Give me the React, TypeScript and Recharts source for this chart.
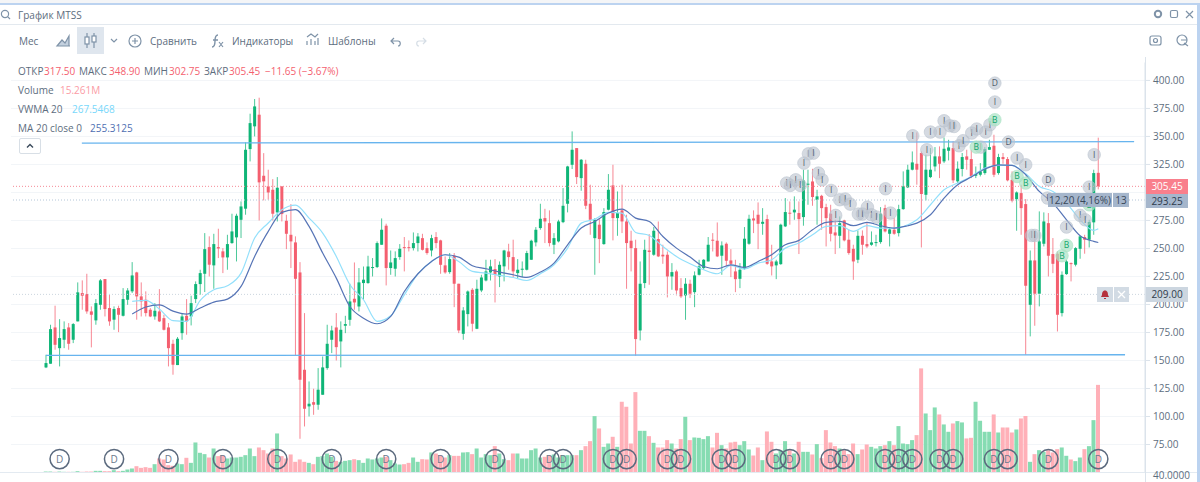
import React from "react";
import {
  ComposedChart, Bar, Line, Scatter, Cell, XAxis, YAxis, CartesianGrid, ReferenceLine,
} from "recharts";

const opens = [
  143.8, 147.1, 179.5, 161, 168.5, 179.5, 168.5, 184.9, 210.2, 209.3,
  193.8, 185.8, 199.7, 222.7, 196.8, 186.4, 196.8, 189.9, 204.2, 211.7,
  228.6, 207.2, 204.2, 195.3, 189.3, 193.8, 187.8, 179.5, 164.9, 145.9,
  174.4, 189.9, 189.3, 204.8, 218.2, 227.4, 251.2, 234.9, 251.2, 247.4,
  242, 254.8, 259.9, 275.6, 285.5, 338.7, 359, 369.4, 314.9, 305.4,
  302.4, 282.2, 305.4, 274.7, 262.2, 255.4, 228.6, 141.7, 109, 112.8,
  110.5, 119.4, 143.2, 168.5, 179.5, 167, 181, 186.3, 205.1, 198.2,
  219.1, 219.1, 232.5, 233.4, 253.3, 270.3, 232.5, 231.9, 242.3, 251.2,
  251.2, 250.3, 254.8, 259.2, 250.3, 248.2, 260.2, 257.2, 234.9, 228.9,
  243.5, 218.5, 173.8, 191.4, 213.1, 178.3, 212.5, 221.4, 228.6, 231.6,
  225, 234, 247.3, 242.3, 228, 231, 231, 239.9, 255.4, 268.2,
  277.1, 272.6, 253.3, 256.3, 273.5, 289.9, 324.7, 339.6, 312.8, 325.6,
  289.9, 259.2, 271.2, 253.9, 284.6, 306.3, 277.1, 284, 274.1, 256.9,
  250.3, 176.8, 219.1, 248.2, 244.4, 258.4, 244.4, 244.4, 225, 229.5,
  214.6, 208.1, 218.5, 211, 226.5, 232.5, 238.4, 257.8, 256.9, 243.5,
  254.2, 239.3, 229.5, 222.9, 231.9, 254.2, 276.8, 280.1, 272, 276.2,
  238.4, 234.9, 236, 269.7, 281.9, 282.2, 281.6, 278, 306.9, 309.8,
  293.5, 297, 286.9, 281, 264.3, 261.3, 275, 257.8, 249.7, 239.9,
  261.3, 253.9, 253.3, 254.8, 255.7, 286, 263.1, 266.7, 263.7, 285.1,
  304.5, 320.3, 325.6, 335.2, 297.9, 313.7, 323.2, 332.2, 327.7, 337.2,
  339.6, 309.9, 320.9, 332.2, 329.8, 314.9, 315.8, 317.3, 338.1, 341.7,
  317.3, 331.6, 329.8, 311.3, 294, 299.4, 289.6, 199.7, 239.3, 209.6,
  254.2, 272.6, 245, 245.3, 192.3, 227.1, 236.9, 235.5, 249.7, 260.2,
  257.8, 273.3, 317.5,
];

const closes = [
  147.7, 178, 164, 170, 178, 164.9, 182.5, 210.8, 207.8, 193.8,
  190.8, 201.2, 221.5, 195.9, 184.9, 195.9, 190.8, 204.8, 212.5, 225.9,
  207.2, 202.7, 192.3, 189.3, 194.4, 184.9, 177.4, 161, 146.2, 169.4,
  189.3, 184.9, 201.2, 218.2, 228, 249.4, 235.5, 253.9, 250, 242,
  253.9, 265.2, 279.2, 287.5, 338.1, 361.9, 376.8, 309, 309.9, 300,
  281, 304.2, 280.7, 263.1, 256.3, 222.9, 132.8, 106.9, 111.4, 110.5,
  123.9, 143.8, 164.9, 176.8, 161.9, 177.4, 182.5, 202.7, 201.8, 219.7,
  222.1, 233.9, 233.4, 254.8, 266.7, 232.5, 237.5, 241.4, 249.7, 250.3,
  250.3, 254.8, 260.7, 248.8, 245.9, 259.2, 254.8, 235.4, 228.6, 240.5,
  218.5, 176.8, 194.7, 211.6, 182.8, 214, 224.1, 229.5, 234, 226.5,
  235.4, 248.2, 242.3, 229.5, 231, 231.9, 245.9, 256.9, 266.7, 276.5,
  274.1, 254.8, 259.2, 274.1, 288.1, 323.2, 338.1, 313.7, 329.2, 288.1,
  275.6, 275.6, 258.4, 282.5, 302.4, 277.1, 281.6, 274.1, 254.8, 250.3,
  169.1, 218.5, 248.8, 246.8, 265.8, 242.9, 242.9, 225, 228.9, 212.5,
  207.2, 218.5, 209.6, 225.9, 234, 239.9, 253.3, 256.9, 242.9, 252.7,
  239, 236.3, 222.6, 231, 258.7, 276.5, 275, 272, 273.8, 236.3,
  234, 238.4, 271.2, 282.5, 281.3, 284.6, 276.2, 310.7, 307.8, 295.9,
  296.5, 286, 277.1, 263.1, 261.6, 272.6, 257.2, 245.9, 238.4, 261.3,
  253.3, 251.8, 255.4, 255.7, 281, 265.2, 267, 263.1, 285.1, 305.4,
  320.3, 326.8, 320.3, 298.6, 320.3, 320.3, 332.2, 325.6, 339, 340.2,
  310.8, 321.2, 331.6, 329.2, 314.3, 316.4, 318.8, 338.7, 340.5, 315.8,
  331.6, 329.8, 310.8, 292.6, 300, 286, 216.7, 239.3, 209.6, 256.3,
  274.1, 243.5, 236.3, 190.8, 226.5, 238.4, 236.3, 250.3, 260.8, 257.8,
  273.6, 317.3, 305.45,
];

const highs = [
  155.1, 181.9, 198.9, 186.9, 184.9, 183.4, 183.4, 219.7, 221.5, 227.4,
  198.3, 204.8, 222.7, 222.7, 208.7, 198.3, 198.9, 214.6, 214.6, 237.8,
  229.2, 219.7, 211.7, 196.8, 201.2, 213.7, 190.8, 183.4, 168.5, 170.9,
  191.7, 204.8, 207.8, 220.6, 231, 263.7, 260.8, 263.1, 267.6, 250.3,
  262.2, 281, 281, 292, 344.7, 370.3, 383.4, 384.6, 335.1, 320.3,
  311.9, 313.7, 305.4, 280.1, 289.6, 260.8, 237.8, 192.3, 131.3, 124.8,
  143.2, 153.6, 181.9, 181, 192.3, 184.9, 189.9, 218.5, 237.5, 232.5,
  233.9, 243.5, 241.4, 256.3, 276.8, 272.1, 248.2, 247.4, 253.9, 260.2,
  257.2, 264.3, 263.7, 263.1, 255.4, 262.2, 264.6, 257.8, 242.9, 245.9,
  245.9, 218.5, 197.6, 212.5, 214.6, 222.1, 226.5, 239.9, 239.9, 240.5,
  238.4, 248.8, 254.2, 257.8, 240.5, 238.4, 247.9, 257.8, 269.1, 289.9,
  285.4, 284, 263.7, 275.6, 303.9, 323.8, 354.5, 339.6, 329.8, 329.2,
  306.9, 277.1, 276.2, 286, 316.4, 324.7, 300.9, 306.9, 280.1, 265.8,
  257.8, 238.4, 257.8, 262.8, 269.1, 274.1, 253.3, 247.3, 236.9, 231,
  223.5, 223.5, 222.1, 229.5, 239.9, 240.5, 260.2, 263.7, 273.2, 256.3,
  255.4, 249.4, 239.9, 236.9, 269.1, 280.1, 284, 291.1, 286, 280.1,
  253.3, 239.9, 272.1, 295, 292, 296.5, 292, 320.3, 320.3, 321.1,
  302.4, 297.9, 289.9, 289, 275.6, 278.6, 275.6, 266.7, 253.3, 266.1,
  266.1, 272.6, 265.2, 262.2, 286.9, 289, 269.1, 277.1, 289, 318.8,
  324.7, 336.6, 353.6, 336.6, 333.7, 339.6, 340.5, 341.1, 349.1, 347,
  345.6, 327.7, 335.2, 338.1, 338.1, 323.2, 326.2, 340.5, 347, 351.5,
  334.5, 335.2, 331.6, 318.8, 300.9, 306.9, 294.1, 248.2, 262.2, 283.1,
  282.2, 281.6, 259.3, 247.4, 229.5, 239.9, 237.5, 251.2, 261.3, 262.2,
  275.6, 320.3, 348.9,
];

const lows = [
  143.2, 147.1, 159.6, 144.7, 161, 159.6, 165.5, 184.9, 195.3, 191.7,
  161.7, 181.9, 195.3, 189.3, 181, 177.4, 175.3, 189.3, 199.7, 210.2,
  186.4, 189.3, 189.3, 188.7, 186.4, 184.3, 176.8, 144.7, 137.3, 145.9,
  168.5, 173, 181.3, 201.2, 208.7, 211.1, 225, 214, 241.4, 228,
  231, 254.2, 238.4, 259.3, 280.1, 327.7, 350, 275, 292.9, 293.5,
  275, 274.1, 274.1, 249.4, 232.5, 154.5, 80.1, 91.1, 100, 101.5,
  106, 119.4, 141.7, 156.6, 150, 143.8, 174.4, 181, 195.3, 193.8,
  204.2, 218.5, 225, 232.5, 253.3, 217, 226.5, 225, 239.9, 229.5,
  247.3, 248.2, 247.3, 248.2, 244.4, 242.9, 250.3, 227.4, 227.4, 227.4,
  197.6, 174.4, 168.5, 180.4, 175.9, 178, 211, 220.6, 221.4, 201.8,
  215.5, 220.6, 231, 224.4, 223.5, 224.4, 230.4, 239.9, 251.8, 266.7,
  254.8, 251.8, 245, 255.4, 272.6, 282.2, 320.9, 307.5, 301.5, 285.1,
  262.2, 226.5, 236.9, 253.3, 284, 257.2, 261.3, 263.7, 214, 229.5,
  154.2, 167.9, 214.6, 217.6, 243.5, 242.3, 236.3, 206.3, 213.1, 208.1,
  205.7, 186.3, 205.7, 197.6, 225.9, 231, 238.4, 247.3, 242.3, 226.5,
  234, 224.4, 211, 214.6, 231, 253.3, 263.7, 249.4, 262.2, 235.4,
  225.9, 222.6, 235.4, 269.1, 271.2, 275.6, 245, 270.3, 289, 288.1,
  271.2, 266.7, 251.8, 256.3, 245, 250.3, 256.3, 244.4, 222, 236.9,
  244.4, 250.3, 252.4, 251.8, 254.2, 264.3, 251.8, 262.2, 260.7, 284.6,
  303.9, 319.7, 306.9, 250.9, 292.9, 312.8, 318.8, 312.8, 326.2, 328.6,
  308.4, 308.4, 314.3, 320.3, 312.8, 312.8, 314.3, 315.8, 338.1, 313.7,
  315.8, 325.6, 309.9, 291.1, 265.8, 262.2, 155.1, 171.5, 181, 198.3,
  251.8, 225, 228, 175.9, 189.3, 226.5, 220.6, 234, 240.8, 245.3,
  250.9, 262.2, 302.75,
];

// millions of shares per month
const volumes = [
  0.17, 0.17, 0.12, 0.17, 0.12, 0.12, 0.12, 0.23, 0.12, 0.17,
  0.17, 0.29, 0.29, 0.23, 0.23, 0.41, 0.23, 0.29, 0.52, 0.7,
  1.1, 0.81, 0.93, 0.81, 1.45, 2.44, 2.27, 1.28, 1.16, 1.57,
  1.45, 2.56, 1.68, 5.23, 3.43, 3.2, 2.61, 4.18, 2.85, 3.02,
  2.44, 2.61, 2.61, 2.73, 3.02, 4.18, 2.85, 4.36, 3.89, 3.31,
  4.18, 6.8, 2.85, 2.44, 3.14, 1.86, 2.27, 1.86, 1.68, 1.45,
  2.73, 2.85, 3.31, 2.73, 2.03, 1.86, 2.03, 2.15, 2.32, 2.15,
  1.68, 2.44, 2.27, 2.44, 2.61, 2.73, 2.15, 1.57, 1.39, 1.45,
  1.68, 2.61, 1.86, 2.32, 2.27, 3.49, 3.31, 3.02, 2.61, 3.02,
  2.9, 2.9, 3.49, 3.54, 3.2, 4.18, 2.61, 3.2, 3.02, 4.59,
  3.31, 2.32, 2.15, 3.31, 3.31, 2.44, 2.44, 3.89, 4.18, 2.61,
  2.73, 3.02, 3.14, 2.61, 3.02, 3.02, 3.02, 3.02, 3.89, 4.59,
  5.46, 9.82, 7.67, 4.47, 5.05, 6.22, 4.47, 12.32, 11.45, 5.05,
  14, 7.26, 7.26, 6.33, 5.17, 4.36, 4.36, 5.64, 5.05, 4.18,
  5.81, 9.7, 5.64, 6.1, 6.04, 5.81, 6.33, 4.36, 6.91, 4.76,
  4.18, 5.23, 5.35, 4.76, 5.46, 4.01, 2.96, 4.36, 2.15, 7.15,
  5.35, 3.31, 3.89, 5.46, 3.89, 3.31, 5.35, 3.6, 3.6, 3.14,
  4.94, 2.5, 7.38, 5.23, 4.59, 4.18, 3.89, 3.2, 5.05, 3.2,
  4.01, 4.88, 4.47, 4.18, 4.59, 4.76, 5.46, 4.76, 8.08, 5.05,
  4.94, 5.64, 6.51, 18.13, 10.28, 7.38, 11.33, 10.11, 8.37, 7.09,
  8.54, 8.95, 8.72, 5.93, 6.04, 12.32, 9.01, 7.09, 7.09, 10.11,
  6.97, 7.84, 7.84, 6.97, 7.49, 9.41, 9.82, 1.86, 3.2, 3.89,
  3.6, 3.89, 3.49, 4.07, 4.36, 2.91, 2.27, 1.98, 2.61, 4.07,
  4.59, 9.12, 15.261,
];

// the moving averages, read every third month from candle 19 on
const maMonths = [
  19, 22, 25, 28, 31, 34, 37, 40, 43, 46, 49, 52, 55, 58, 61, 64, 67, 70, 73, 76,
  79, 82, 85, 88, 91, 94, 97, 100, 103, 106, 109, 112, 115, 118, 121, 124, 127, 130, 133, 136,
  139, 142, 145, 148, 151, 154, 157, 160, 163, 166, 169, 172, 175, 178, 181, 184, 187, 190, 192, 195,
  198, 201, 204, 207, 210, 213, 216, 219, 222, 225, 228, 231, 232,
];
const maValues = [
  191.4, 197.7, 199.7, 194.1, 191.4, 196.8, 202.1, 204.8, 216.1, 242.9, 265.2, 282.2, 284.6, 269.7, 245.9, 223.5, 198.2, 187.8, 182.8, 189.3,
  211.6, 227.4, 238.4, 244.4, 242.3, 234.6, 231.9, 228.9, 226.5, 224.1, 228.9, 236.9, 253.3, 268.2, 274.1, 281.6, 285.1, 277.1, 274.1, 260.7,
  250.3, 242.3, 233.9, 231.9, 235.4, 233.1, 238.4, 244.4, 253.3, 257.2, 266.7, 273.2, 274.1, 270.3, 273.2, 270.3, 268.2, 270.3, 272.6, 280.1,
  295, 306.9, 313.7, 320.9, 324.7, 324.1, 315.8, 300.9, 290.5, 275.6, 261.3, 256.3, 255.31,
];
const vwmaValues = [
  202.7, 203.6, 195.9, 185.5, 184.9, 203.6, 213.1, 216.7, 228, 259.3, 272.7, 284.6, 288.7, 277.1, 263.7, 242.9, 217.6, 204.2, 184.9, 189.9,
  208.6, 227.4, 238.4, 244.4, 238.4, 229.5, 228, 225.9, 224.1, 221.4, 227.4, 235.4, 250.3, 272.6, 276.2, 282.2, 281.6, 264.3, 261.6, 251.8,
  242.9, 236.3, 231, 227.4, 234.9, 231.6, 236.9, 239.9, 250.3, 254.8, 262.2, 269.7, 270.3, 265.2, 270.3, 268.2, 268.2, 271.2, 275.6, 289,
  302.4, 308.4, 314.3, 321.8, 324.1, 324.1, 316.7, 305.4, 300.9, 290.5, 275.6, 266.1, 267.55,
];

// 300 is hidden behind the price boxes, so it has a grid line but no label
const priceTicks = [400, 375, 350, 325, 275, 250, 225, 200, 175, 150, 125, 100, 75];
const gridPrices = [400, 375, 350, 325, 300, 275, 250, 225, 200, 175, 150, 125, 100, 75];
const gridMonths = [11, 35, 59, 83, 107, 131, 155, 179, 203, 227];

const dividendMonths = [
  3, 15, 27, 39, 51, 63, 75, 87, 99, 111, 114, 125, 128, 137, 140, 149, 152, 161, 164,
  173, 176, 185, 188, 191, 197, 200, 209, 212, 221, 232,
];

const greyMarkerMonths = [
  163.3, 164.1, 165.3, 166.3, 167.1, 168.1, 169.2, 170.3, 171.1, 173.1, 174.1, 175, 176.2, 177.3, 179.1, 180, 181.1, 182, 183.1,
  185.1, 186.2, 191.1, 194.2, 195, 197.1, 198, 199.3, 200.2, 201.3, 202.2, 204.1, 205.2, 206.1, 207.2, 208.1, 209.2,
  214.1, 216, 217.3, 218, 220.8, 225, 228, 229.1, 230, 231.1,
];
const greyMarkerPrices = [
  308.4, 306.3, 311.3, 306.3, 326.2, 334.5, 335.1, 317.3, 311.3, 301.8, 279.5, 293.5, 294.1, 289.6, 280.7, 280.7, 286.9, 280.1, 278,
  303.3, 281.6, 350.6, 338.1, 353.9, 353.9, 364, 359.5, 358.9, 341.7, 346.2, 353, 356.6, 340.5, 353.9, 360.4, 380.7,
  330.7, 324.7, 261.6, 261.6, 295, 269.1, 279.5, 275.6, 304.8, 333.7,
];
const upperDMonths = [209.2, 212.2, 221];
const upperDPrices = [397.6, 345, 311.3];
const buyMonths = [209.2, 205.1, 214.1, 216, 224, 225, 230];
const buyPrices = [364.9, 340.5, 314.3, 308.4, 243.5, 252.7, 289];

const UP = "#0fb577";
const DOWN = "#f45f6f";
const UP_VOL = "#86dcb2";
const DOWN_VOL = "#ffb0b8";
const BODY_WIDTH = 3;
const FONT = "'Open Sans', sans-serif";

const rows = opens.map((open, i) => {
  const m = maMonths.indexOf(i);
  return {
    i,
    open,
    close: closes[i],
    range: [lows[i], highs[i]],
    volume: volumes[i],
    ma: m >= 0 ? maValues[m] : null,
    vwma: m >= 0 ? vwmaValues[m] : null,
  };
});

const dividendDots = dividendMonths.map((i) => ({ i, y: 62 }));
const greyDots = greyMarkerMonths.map((i, n) => ({ i, y: greyMarkerPrices[n] }));
const upperDDots = upperDMonths.map((i, n) => ({ i, y: upperDPrices[n] }));
const buyDots = buyMonths.map((i, n) => ({ i, y: buyPrices[n] }));

function Candle(props: any) {
  const { x, y, width, height, payload } = props;
  const [low, high] = payload.range;
  const at = (p: number) => y + ((high - p) / (high - low)) * height;
  const top = at(Math.max(payload.open, payload.close));
  const bottom = at(Math.min(payload.open, payload.close));
  const color = payload.close >= payload.open ? UP : DOWN;
  const mid = x + width / 2;
  return (
    <g>
      <line x1={mid} x2={mid} y1={y} y2={y + height} stroke={color} strokeOpacity={0.75} strokeWidth={1} />
      <rect x={mid - BODY_WIDTH / 2} y={top} width={BODY_WIDTH} height={Math.max(bottom - top, 1)} fill={color} />
    </g>
  );
}

function ringMarker(props: any) {
  const { cx, cy } = props;
  return (
    <g>
      <circle cx={cx} cy={cy} r={9.6} fill="none" stroke="#5b6a7e" strokeWidth={1.5} />
      <text x={cx} y={cy + 3.5} textAnchor="middle" fontSize={10} fontFamily={FONT} fill="#6b7a8d">D</text>
    </g>
  );
}

function softMarker(letter: string, fill: string, ring: string, ink: string) {
  return (props: any) => (
    <g>
      <circle cx={props.cx} cy={props.cy} r={6.3} fill={fill} stroke={ring} strokeWidth={1} />
      <text x={props.cx} y={props.cy + 3} textAnchor="middle" fontSize={8.5} fontFamily={FONT} fill={ink}>{letter}</text>
    </g>
  );
}

const greyShape = softMarker("I", "rgba(185,194,205,0.6)", "rgba(185,194,205,0.55)", "#4e5b6b");
const greyDShape = softMarker("D", "rgba(185,194,205,0.6)", "rgba(185,194,205,0.55)", "#4e5b6b");
const buyShape = softMarker("B", "rgba(170,226,196,0.7)", "rgba(170,226,196,0.6)", "#12a76c");

function Txt({ x, y, color = "#5d6d7e", size = 10, children }: any) {
  return (
    <div style={{ position: "absolute", left: x, top: y - 8, height: 16, lineHeight: "16px", fontSize: size, color, whiteSpace: "nowrap", fontFamily: FONT }}>
      {children}
    </div>
  );
}

function Box({ x, y, w, h, fill, color = "#39485a", size = 10, children }: any) {
  return (
    <div style={{ position: "absolute", left: x, top: y, width: w, height: h, lineHeight: `${h}px`, background: fill, color, fontSize: size, textAlign: "center", whiteSpace: "nowrap", fontFamily: FONT }}>
      {children}
    </div>
  );
}

function Icons() {
  const c = "#7f93a8";
  return (
    <svg width={1200} height={60} style={{ position: "absolute", left: 0, top: 0 }} fill="none" stroke={c} strokeWidth={1.2}>
      <circle cx={5} cy={14} r={3.6} />
      <line x1={7.6} y1={16.6} x2={10} y2={19} />
      <path d="M57 46 L62 40 L65 43 L69 36 L69 46 Z M57 46 H70" fill="#c3d0de" />
      <line x1={87} y1={33} x2={87} y2={48} />
      <rect x={85} y={37} width={4} height={7} fill="#fff" />
      <line x1={94} y1={33} x2={94} y2={48} />
      <rect x={92} y={36} width={4} height={6} fill="#fff" />
      <path d="M111 39 L114 42 L117 39" />
      <circle cx={135} cy={41} r={6} />
      <path d="M135 38 V44 M132 41 H138" />
      <path d="M218 35 C215 35 215 38 215 41 C215 45 214 47 212 47 M213 40 H218" strokeWidth={1.4} />
      <path d="M219 42 L223 47 M223 42 L219 47" />
      <path d="M307 45 V41 M311 45 V39 M315 45 V41 M318 45 V38 M307 37 L311 34 L315 37 L318 34" />
      <path d="M391 41 H398 C401 41 401 46 398 46 M394 38 L391 41 L394 44" />
      <path d="M426 41 H419 C416 41 416 46 419 46 M423 38 L426 41 L423 44" stroke="#d5dde5" />
      <rect x={1150} y={36} width={11} height={9} rx={2} />
      <circle cx={1155.5} cy={40.5} r={2} />
      <circle cx={1182} cy={40} r={5} />
      <path d="M1181 40 H1187 M1184 43 L1188 46" />
      <circle cx={1158} cy={14} r={3.2} strokeWidth={2} />
      <rect x={1170.5} y={10.5} width={7} height={7} rx={1.5} />
      <path d="M1186 11 L1193 18 M1193 11 L1186 18" />
    </svg>
  );
}

export default function App() {
  return (
    <div style={{ position: "absolute", left: 0, top: 0, width: 1200, height: 482, background: "#fff", overflow: "hidden" }}>
      <ComposedChart
        width={1200}
        height={482}
        data={rows}
        margin={{ top: 62.5, right: 0, bottom: 9.5, left: 11 }}
        style={{ position: "absolute", left: 0, top: 0 }}
      >
        <CartesianGrid yAxisId="price" stroke="#f2f5f8" strokeWidth={1} syncWithTicks horizontalValues={gridPrices} />
        <XAxis
          dataKey="i"
          type="number"
          domain={[-7.72, 242.3]}
          ticks={gridMonths}
          tick={false}
          tickLine={false}
          axisLine={false}
          height={0}
        />
        <XAxis xAxisId="vol" dataKey="i" type="number" domain={[-7.72, 242.3]} hide height={0} />
        <YAxis
          yAxisId="price"
          orientation="right"
          domain={[50, 416]}
          ticks={priceTicks}
          interval={0}
          width={55}
          tickSize={5}
          tickFormatter={(v: number) => v.toFixed(2)}
          tick={{ fontSize: 10, fill: "#5d6d7e", fontFamily: FONT, textAnchor: "start" }}
          tickMargin={3}
          stroke="#dbe3eb"
        />
        <YAxis yAxisId="vol" domain={[0, 71.4]} hide />

        <Bar xAxisId="vol" yAxisId="vol" dataKey="volume" barSize={4} isAnimationActive={false}>
          {rows.map((r) => (
            <Cell key={r.i} fill={r.close >= r.open ? UP_VOL : DOWN_VOL} />
          ))}
        </Bar>

        <ReferenceLine yAxisId="price" y={305.45} stroke="#f58a96" strokeDasharray="1 2" />
        <ReferenceLine yAxisId="price" y={293.25} stroke="#b4c6d8" strokeDasharray="1 2" />
        <ReferenceLine yAxisId="price" y={209} stroke="#cbd5df" strokeDasharray="1 2" />

        <Bar yAxisId="price" dataKey="range" barSize={3} shape={Candle} isAnimationActive={false} />

        <Line yAxisId="price" dataKey="vwma" type="monotone" connectNulls stroke="#93e0fb" strokeWidth={1.2} dot={false} isAnimationActive={false} />
        <Line yAxisId="price" dataKey="ma" type="monotone" connectNulls stroke="#5674b6" strokeWidth={1.2} dot={false} isAnimationActive={false} />

        <ReferenceLine yAxisId="price" segment={[{ x: 7.9, y: 344.1 }, { x: 239.9, y: 345.3 }]} stroke="#67b4ee" strokeWidth={1.3} />
        <ReferenceLine yAxisId="price" segment={[{ x: 0, y: 154.5 }, { x: 237.9, y: 155.1 }]} stroke="#67b4ee" strokeWidth={1.3} />

        <Scatter yAxisId="price" data={dividendDots} dataKey="y" shape={ringMarker} isAnimationActive={false} />
        <Scatter yAxisId="price" data={greyDots} dataKey="y" shape={greyShape} isAnimationActive={false} />
        <Scatter yAxisId="price" data={upperDDots} dataKey="y" shape={greyDShape} isAnimationActive={false} />
        <Scatter yAxisId="price" data={buyDots} dataKey="y" shape={buyShape} isAnimationActive={false} />
      </ComposedChart>

      {/* window frame */}
      <div style={{ position: "absolute", left: 0, top: 0, width: 1200, height: 3, background: "#f4f5f7" }} />
      <div style={{ position: "absolute", left: 0, top: 3, width: 1200, height: 2, background: "#bcd3f0" }} />
      <div style={{ position: "absolute", left: 1197, top: 3, width: 3, height: 479, background: "#bcd3f0" }} />
      <div style={{ position: "absolute", left: 0, top: 24, width: 1197, height: 1, background: "#e3e9ef" }} />
      <div style={{ position: "absolute", left: 0, top: 472, width: 1197, height: 1, background: "#e3eaf1" }} />
      <div style={{ position: "absolute", left: 1145, top: 57, width: 1, height: 425, background: "#dbe3eb" }} />
      <div style={{ position: "absolute", left: 77, top: 27, width: 27, height: 27, background: "#dfe6ee" }} />

      <Icons />
      <Txt x={18} y={15}>График MTSS</Txt>
      <Txt x={19} y={41}>Мес</Txt>
      <Txt x={150} y={41}>Сравнить</Txt>
      <Txt x={232} y={41}>Индикаторы</Txt>
      <Txt x={328} y={41}>Шаблоны</Txt>

      <Txt x={18} y={71}>ОТКР</Txt>
      <Txt x={44} y={71} color={DOWN}>317.50</Txt>
      <Txt x={79} y={71}>МАКС</Txt>
      <Txt x={109} y={71} color={DOWN}>348.90</Txt>
      <Txt x={144} y={71}>МИН</Txt>
      <Txt x={169} y={71} color={DOWN}>302.75</Txt>
      <Txt x={204} y={71}>ЗАКР</Txt>
      <Txt x={229} y={71} color={DOWN}>305.45</Txt>
      <Txt x={265} y={71} color={DOWN}>−11.65 (−3.67%)</Txt>
      <Txt x={18} y={89.5}>Volume</Txt>
      <Txt x={60} y={89.5} color="#fb9ca6">15.261M</Txt>
      <Txt x={18} y={109}>VWMA 20</Txt>
      <Txt x={72} y={109} color="#78d8fb">267.5468</Txt>
      <Txt x={18} y={128}>MA 20 close 0</Txt>
      <Txt x={90} y={128} color="#4f6fb2">255.3125</Txt>

      <div style={{ position: "absolute", left: 19, top: 138, width: 22, height: 16, border: "1px solid #d8dfe6", borderRadius: 2, boxSizing: "border-box" }}>
        <svg width={20} height={14} style={{ display: "block" }}>
          <path d="M7 8.5 L10 5.5 L13 8.5" fill="none" stroke="#39485a" strokeWidth={1.4} />
        </svg>
      </div>

      <Box x={1048} y={193} w={64} h={14} fill="#a5b6cc">12,20 (4,16%)</Box>
      <Box x={1113} y={193} w={16} h={14} fill="#a5b6cc">13</Box>
      <div style={{ position: "absolute", left: 1097, top: 287, width: 16, height: 15, background: "#d2dbe4" }}>
        <svg width={16} height={15} style={{ display: "block" }}>
          <path d="M8 3.5 C5.5 3.5 5 6 5 8 L4 10 H12 L11 8 C11 6 10.5 3.5 8 3.5 Z M7 11 H9 V12 H7 Z" fill="#b5303c" />
        </svg>
      </div>
      <div style={{ position: "absolute", left: 1114, top: 287, width: 15, height: 15, background: "#d2dbe4" }}>
        <svg width={15} height={15} style={{ display: "block" }}>
          <path d="M4 4 L11 11 M11 4 L4 11" stroke="#fff" strokeWidth={1.3} />
        </svg>
      </div>

      <Box x={1146} y={179} w={42} h={15} fill="#f97f8c" color="#fff">305.45</Box>
      <Box x={1146} y={194} w={42} h={14} fill="#a5b6cc" color="#2f3c4c">293.25</Box>
      <Box x={1146} y={287} w={42} h={15} fill="#ccd6e0" color="#2f3c4c">209.00</Box>
      <Txt x={1153} y={475}>40.0000</Txt>
    </div>
  );
}
